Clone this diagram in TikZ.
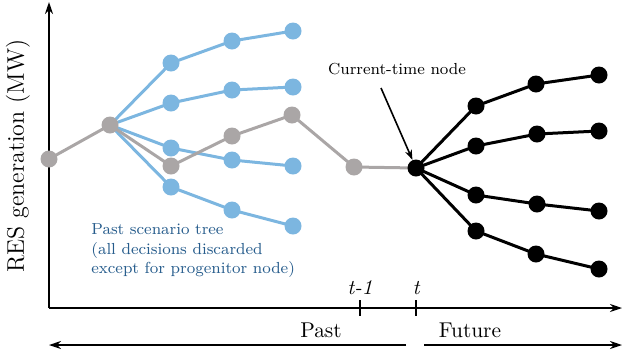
\documentclass[tikz,border=0pt]{standalone}
\usetikzlibrary{arrows.meta,backgrounds}
\definecolor{pastblue}{RGB}{124,182,224}
\definecolor{pastgray}{RGB}{170,166,166}
\definecolor{textblue}{RGB}{38,92,140}
\begin{document}
\begin{tikzpicture}[x=0.5pt,y=-0.5pt,
  dotb/.style={circle,fill=pastblue,inner sep=0pt,minimum size=8.5pt},
  dotg/.style={circle,fill=pastgray,inner sep=0pt,minimum size=8.5pt},
  dotk/.style={circle,fill=black,inner sep=0pt,minimum size=8.5pt},
  lb/.style={pastblue,line width=1.5pt},
  lg/.style={pastgray,line width=1.5pt},
  lk/.style={black,line width=1.5pt},
  axis/.style={line width=0.8pt,-{Stealth[length=6pt,width=4pt]}}]
\useasboundingbox (0,0) rectangle (624,360);
% axes
\coordinate (o) at (49,308);
\coordinate (ytop) at (49,2);
\coordinate (xend) at (622,308);
\draw[axis] (o) -- (ytop);
\draw[axis] (o) -- (xend);
\node[rotate=90,font=\large] (ylab) at (18,156) {RES generation (MW)};
% ticks
\coordinate (tm1) at (360,308);
\coordinate (t0) at (416,308);
\draw[line width=0.8pt] ([yshift=4pt]tm1) -- ([yshift=-4pt]tm1);
\draw[line width=0.8pt] ([yshift=4pt]t0) -- ([yshift=-4pt]t0);
\node[font=\fontsize{10.5}{12}\selectfont\itshape] (ltm1) at (360,288) {t-1};
\node[font=\fontsize{10.5}{12}\selectfont\itshape] (lt0) at (416,288) {t};
% past/future
\node[font=\fontsize{10.7}{13}\selectfont] (past) at (321,330) {Past};
\node[font=\fontsize{10.7}{13}\selectfont] (future) at (470,330) {Future};
\coordinate (pa) at (406,345);
\coordinate (pb) at (49,345);
\coordinate (fa) at (424,345);
\coordinate (fb) at (622,345);
\draw[axis] (pa) -- (pb);
\draw[axis] (fa) -- (fb);
% past tree
\node[dotg] (g1) at (49,159) {};
\node[dotg] (g2) at (110,125) {};
\node[dotb] (b11) at (171,63) {};
\node[dotb] (b12) at (232,41) {};
\node[dotb] (b13) at (293,31) {};
\node[dotb] (b21) at (171,103) {};
\node[dotb] (b22) at (232,90) {};
\node[dotb] (b23) at (293,87) {};
\node[dotb] (b31) at (171,148) {};
\node[dotb] (b32) at (232,160) {};
\node[dotb] (b33) at (293,166) {};
\node[dotb] (b41) at (171,187) {};
\node[dotb] (b42) at (232,210) {};
\node[dotb] (b43) at (293,226) {};
\node[dotg] (g3) at (171,166) {};
\node[dotg] (g4) at (232,136) {};
\node[dotg] (g5) at (292,115) {};
\node[dotg] (g6) at (354,167) {};
\node[dotk] (c) at (416,168) {};
% future tree
\node[dotk] (k11) at (476,106) {};
\node[dotk] (k12) at (536,84) {};
\node[dotk] (k13) at (599,75) {};
\node[dotk] (k21) at (476,146) {};
\node[dotk] (k22) at (537,134) {};
\node[dotk] (k23) at (599,131) {};
\node[dotk] (k31) at (476,195) {};
\node[dotk] (k32) at (537,204) {};
\node[dotk] (k33) at (599,211) {};
\node[dotk] (k41) at (476,231) {};
\node[dotk] (k42) at (536,254) {};
\node[dotk] (k43) at (599,269) {};
\begin{scope}[on background layer]
\foreach \i in {1,2,3,4}{
  \draw[lb] (g2.center) -- (b\i1.center) -- (b\i2.center) -- (b\i3.center);
}
\draw[lg] (g1.center) -- (g2.center) -- (g3.center) -- (g4.center) -- (g5.center) -- (g6.center) -- (c.center);
\foreach \i in {1,2,3,4}{
  \draw[lk] (c.center) -- (k\i1.center) -- (k\i2.center) -- (k\i3.center);
}
\end{scope}
% labels
\node[font=\fontsize{8}{9.8}\selectfont] (ctn) at (397,69) {Current-time node};
\coordinate (ca) at (381,88);
\draw[line width=0.8pt,-{Stealth[length=5pt,width=3.5pt]}] (ca) -- (c);
\node[font=\fontsize{8}{9.9}\selectfont,text=textblue,align=left,anchor=north west,inner sep=0pt] (pst) at (91,223)
  {Past scenario tree\\(all decisions discarded\\except for progenitor node)};
\end{tikzpicture}
\end{document}
